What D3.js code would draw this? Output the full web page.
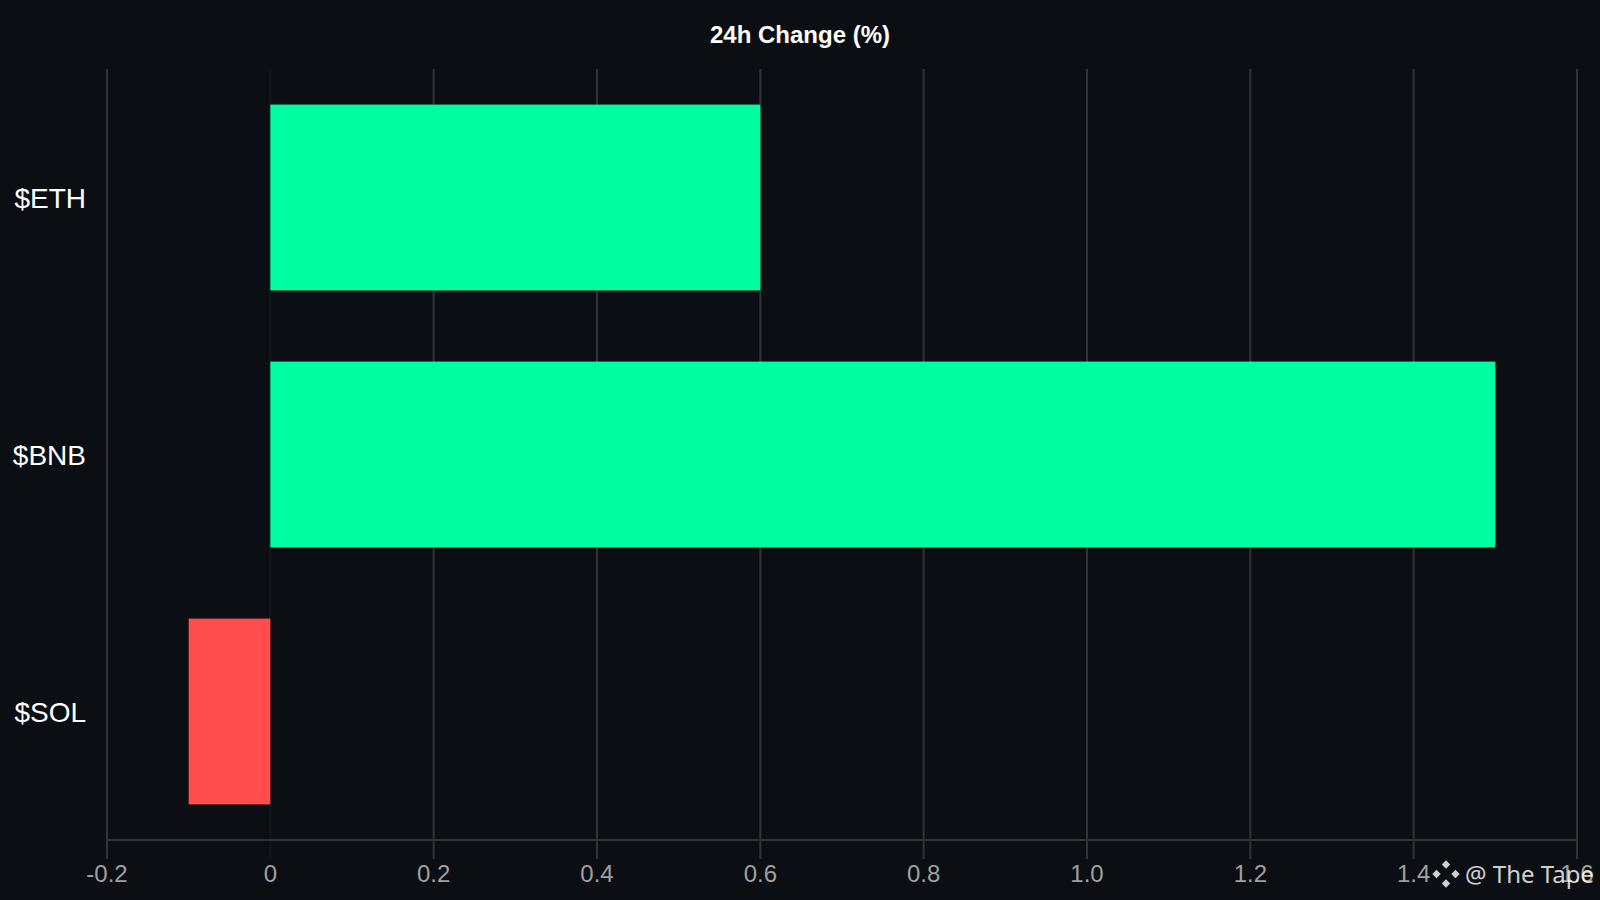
<!DOCTYPE html>
<html><head><meta charset="utf-8">
<script src="https://cdnjs.cloudflare.com/ajax/libs/d3/7.8.5/d3.min.js"></script>
<style>html,body{margin:0;padding:0;background:#0b0f13;overflow:hidden}</style>
</head><body><svg id="c" width="1600" height="900"></svg>
<script>
const categories = ["$ETH", "$BNB", "$SOL"];
const changes = [0.6, 1.5, -0.1];
const tickValues = [-0.2, 0, 0.2, 0.4, 0.6, 0.8, 1.0, 1.2, 1.4, 1.6];
const tickLabels = ["-0.2", "0", "0.2", "0.4", "0.6", "0.8", "1.0", "1.2", "1.4", "1.6"];
const titleText = "24h Change (%)";
const watermark = "@ The Tape";
const font = '"Liberation Sans", Arial, sans-serif';

const svg = d3.select("#c");
svg.append("rect").attr("width",1600).attr("height",900).attr("fill","#0b0f13");
const x = d3.scaleLinear().domain([-0.2,1.6]).range([107,1577]);
const y = d3.scaleBand().domain(categories).range([69,840]).paddingInner(0.277).paddingOuter(0.1385);

svg.append("text").attr("x",800).attr("y",42.5).attr("text-anchor","middle")
  .attr("font-family",font).attr("font-weight","bold").attr("font-size",24).attr("fill","#fff").text(titleText);

svg.append("g").selectAll("line").data(tickValues).join("line")
  .attr("x1",d=>x(d)).attr("x2",d=>x(d)).attr("y1",69).attr("y2",859)
  .attr("stroke",d=>d===0?"#12151a":"#333333").attr("stroke-width",2);
svg.append("line").attr("x1",107).attr("x2",1577).attr("y1",840).attr("y2",840).attr("stroke","#333333").attr("stroke-width",2);

svg.append("g").selectAll("rect").data(changes).join("rect")
  .attr("x",d=>Math.min(x(d),x(0))).attr("width",d=>Math.abs(x(d)-x(0)))
  .attr("y",(d,i)=>y(categories[i])).attr("height",y.bandwidth())
  .attr("fill",d=>d>=0?"#00ffa3":"#ff4d4d");

svg.append("g").selectAll("text").data(tickValues).join("text")
  .attr("x",d=>x(d)).attr("y",882).attr("text-anchor","middle")
  .attr("font-family",font).attr("font-size",24).attr("fill","#a0a0a0").text((d,i)=>tickLabels[i]);

svg.append("g").selectAll("text").data(categories).join("text")
  .attr("x",86).attr("y",d=>y(d)+y.bandwidth()/2+10).attr("text-anchor","end")
  .attr("font-family",font).attr("font-size",28).attr("fill","#fff").text(d=>d);

const wm = svg.append("g").attr("fill","#ffffff").attr("opacity",0.8);
const ic = wm.append("g").attr("transform","translate(1446,874)");
[[0,-9.5],[-9.5,0],[9.5,0],[0,9.5]].forEach(([a,b])=>{
  ic.append("path").attr("d",d3.line()([[a,b-4.2],[a+4.2,b],[a,b+4.2],[a-4.2,b]]));
});
wm.append("text").attr("x",1465).attr("y",883).attr("font-family",'"Noto Sans", sans-serif').attr("font-size",24).text(watermark);
</script></body></html>
